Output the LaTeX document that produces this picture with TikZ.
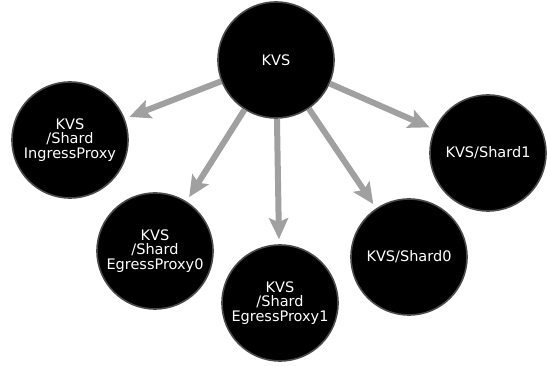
\documentclass[tikz,border=0pt]{standalone}
\usepackage{fontspec}
\newfontfamily\kvsfont{DejaVu Sans}
\usetikzlibrary{arrows.meta}
\definecolor{linkgray}{HTML}{A0A0A0}
\definecolor{rimgray}{HTML}{4A4A4A}
\tikzset{
  shardnode/.style={circle,minimum size=116pt,inner sep=0pt,fill=black,draw=rimgray,line width=1.6pt,text=white,align=center,font=\kvsfont\fontsize{14.5}{14.5}\selectfont},
  link/.style={draw=linkgray,line width=6pt,shorten >=5pt,-{Stealth[length=21pt,width=19pt,inset=4pt]}}
}
\begin{document}
\begin{tikzpicture}[x=1pt,y=-1pt]
			\useasboundingbox (0,0) rectangle (547,366);
			\node[shardnode] (kvs) at (276,60) {KVS};
			\node[shardnode] (ingress) at (70,140) {KVS\\/Shard\\IngressProxy};
			\node[shardnode] (egress0) at (155,251) {KVS\\/Shard\\EgressProxy0};
			\node[shardnode] (egress1) at (280,303) {KVS\\/Shard\\EgressProxy1};
			\node[shardnode] (shard0) at (409,257) {KVS/Shard0};
			\node[shardnode] (shard1) at (488,153) {KVS/Shard1};
			\draw[link] (kvs) -- (ingress);
			\draw[link] (kvs) -- (egress0);
			\draw[link] (kvs) -- (egress1);
			\draw[link] (kvs) -- (shard0);
			\draw[link] (kvs) -- (shard1);
		\end{tikzpicture}
\end{document}
